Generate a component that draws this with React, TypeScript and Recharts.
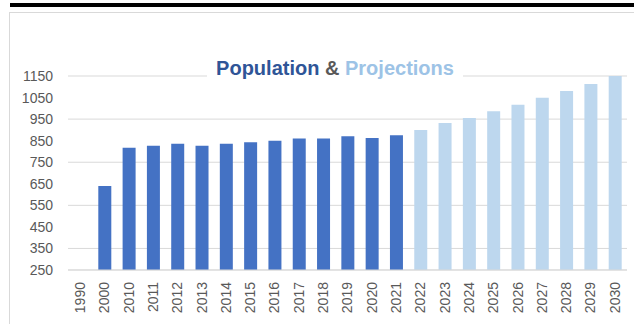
import React from "react";
import { BarChart, Bar, XAxis, YAxis, CartesianGrid, Cell } from "recharts";

const years = ["1990","2000","2010","2011","2012","2013","2014","2015","2016","2017","2018","2019","2020","2021","2022","2023","2024","2025","2026","2027","2028","2029","2030"];
const populationYears = ["2000","2010","2011","2012","2013","2014","2015","2016","2017","2018","2019","2020","2021"];
const populationValues = [640, 817, 826, 836, 826, 836, 843, 850, 860, 860, 871, 862, 875];
const projectionYears = ["2022","2023","2024","2025","2026","2027","2028","2029","2030"];
const projectionValues = [900, 932, 955, 986, 1017, 1049, 1080, 1113, 1150];
const yTicks = [250, 350, 450, 550, 650, 750, 850, 950, 1050, 1150];

const POP_COLOR = "#4472C4";
const PROJ_COLOR = "#BDD7EE";

const data = years.map((y) => {
  const pi = populationYears.indexOf(y);
  const ji = projectionYears.indexOf(y);
  return {
    year: y,
    value: pi >= 0 ? populationValues[pi] : ji >= 0 ? projectionValues[ji] : null,
    projected: ji >= 0,
  };
});

const FONT = "'Liberation Sans', Arial, sans-serif";

const XTick = (props: any) => {
  const { x, y, payload } = props;
  const ty = y + 12;
  return (
    <text
      x={x}
      y={ty}
      transform={`rotate(-90, ${x}, ${ty})`}
      textAnchor="end"
      dy="0.35em"
      fill="#595959"
      fontSize={14}
      fontFamily={FONT}
    >
      {payload.value}
    </text>
  );
};

export default function App() {
  return (
    <div style={{ position: "absolute", left: 0, top: 0, width: 634, height: 324, background: "#fff", overflow: "hidden" }}>
      <div style={{ position: "absolute", left: 10, top: 3, width: 624, height: 4, background: "#000" }} />
      <div style={{ position: "absolute", left: 9, top: 12, width: 640, height: 330, border: "1px solid #d9d9d9", boxSizing: "border-box" }} />
      <div style={{ position: "absolute", left: 0, top: 0 }}>
        <BarChart
          width={634}
          height={324}
          data={data}
          margin={{ top: 76, right: 7, left: 0, bottom: 0 }}
          barCategoryGap={0}
        >
          <CartesianGrid vertical={false} stroke="#d9d9d9" />
          <YAxis
            domain={[250, 1150]}
            ticks={yTicks}
            allowDataOverflow
            width={68}
            axisLine={false}
            tickLine={false}
            tickSize={0}
            tickMargin={15}
            tick={{ fill: "#595959", fontSize: 14, fontFamily: FONT }}
          />
          <XAxis
            dataKey="year"
            height={54}
            interval={0}
            axisLine={{ stroke: "#d9d9d9" }}
            tickLine={false}
            tickSize={0}
            tickMargin={0}
            tick={<XTick />}
          />
          <Bar dataKey="value" barSize={13} isAnimationActive={false}>
            {data.map((d, i) => (
              <Cell key={i} fill={d.projected ? PROJ_COLOR : POP_COLOR} />
            ))}
          </Bar>
        </BarChart>
      </div>
      <div
        style={{
          position: "absolute",
          left: 207,
          top: 56,
          width: 256,
          height: 24,
          lineHeight: "24px",
          background: "#fff",
          textAlign: "center",
          fontFamily: FONT,
          fontWeight: "bold",
          fontSize: 20,
          whiteSpace: "nowrap",
        }}
      >
        <span style={{ color: "#2F5597" }}>Population</span>
        <span style={{ color: "#595959" }}> &amp; </span>
        <span style={{ color: "#9DC3E6" }}>Projections</span>
      </div>
    </div>
  );
}
